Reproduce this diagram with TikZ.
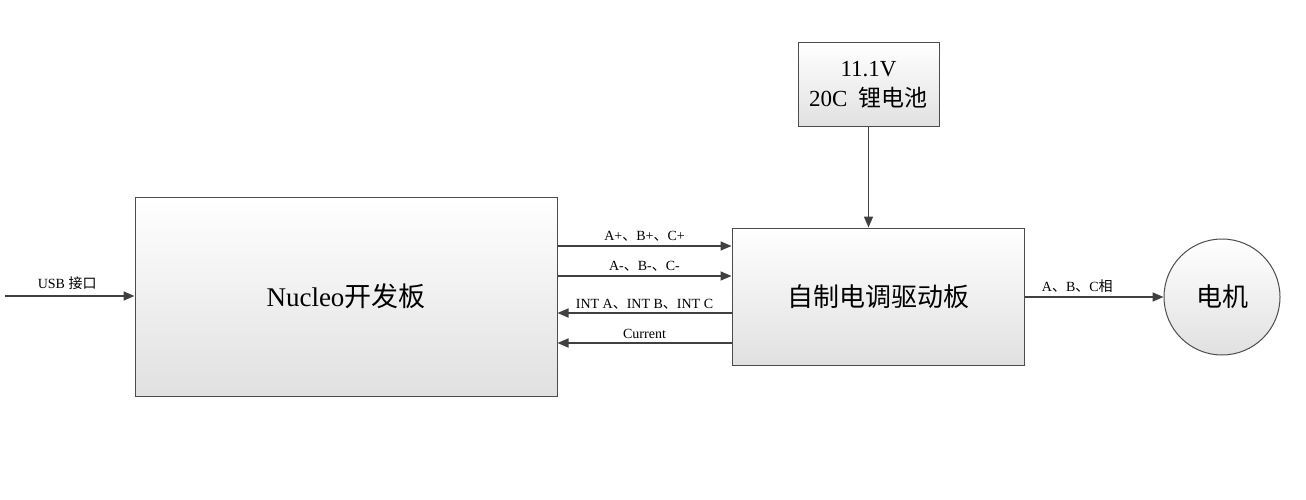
\documentclass[tikz,border=0pt]{standalone}
\usepackage{fontspec}
\setmainfont{Liberation Serif}
\newfontfamily\cjk{Noto Sans CJK SC}
\usetikzlibrary{arrows.meta}
\begin{document}
\begin{tikzpicture}[x=1pt,y=-1pt,
  box/.style={draw=black!70,line width=1pt,top color=white,bottom color=black!12,inner sep=0pt},
  arr/.style={draw=black!75,line width=1.6pt,-{Triangle[length=11pt,width=9pt]}},
  lbl/.style={font=\fontsize{14}{15}\selectfont,inner sep=1pt}]
\useasboundingbox (0,0) rectangle (1306,500);
\node[box,minimum width=422pt,minimum height=199pt,font=\fontsize{27}{30}\selectfont] (nuc) at (346,296.5) {Nucleo{\cjk 开发板}};
\node[box,minimum width=141pt,minimum height=84pt,align=center,font=\fontsize{23}{30}\selectfont] (bat) at (868.5,85) {11.1V\\20C\ \ {\cjk 锂电池}};
\node[box,minimum width=292pt,minimum height=137pt,font=\fontsize{26}{30}\selectfont\cjk] (drv) at (878,296.5) {自制电调驱动板};
\node[box,circle,minimum size=116pt,font=\fontsize{26}{30}\selectfont\cjk] (mot) at (1222,297) {电机};
\coordinate (usb) at (5,296);
\draw[arr] (usb) -- (nuc.west|-usb) node[lbl,pos=0.48,above=5pt] {USB {\cjk 接口}};
\draw[arr] (nuc.east|-0,246) -- (drv.west|-0,246) node[lbl,midway,above=3pt] {A+{\cjk 、}B+{\cjk 、}C+};
\draw[arr] (nuc.east|-0,276) -- (drv.west|-0,276) node[lbl,midway,above=3pt] {A-{\cjk 、}B-{\cjk 、}C-};
\draw[arr] (drv.west|-0,313) -- (nuc.east|-0,313) node[lbl,midway,above=2pt] {INT A{\cjk 、}INT B{\cjk 、}INT C};
\draw[arr] (drv.west|-0,343) -- (nuc.east|-0,343) node[lbl,midway,above=3pt] {Current};
\draw[arr] (bat.south) -- (drv.north-|bat.south);
\draw[arr] (drv.east|-0,297) -- (mot.west) node[lbl,pos=0.38,above=3pt] {A{\cjk 、}B{\cjk 、}C{\cjk 相}};
\end{tikzpicture}
\end{document}
